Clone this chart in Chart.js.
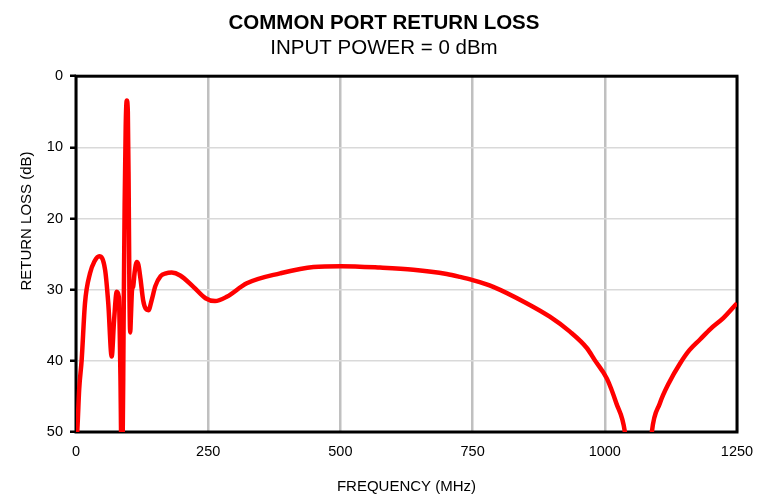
<!DOCTYPE html>
<html>
<head>
<meta charset="utf-8">
<script src="https://cdn.jsdelivr.net/npm/chart.js@4/dist/chart.umd.min.js"></script>
<style>
    html, body { margin: 0; padding: 0; background: #fff; }
    #wrap { width: 768px; height: 496px; }
</style>
</head>
<body>
<div id="wrap"><canvas id="returnLossChart" width="768" height="496"></canvas></div>
<script>
// Frequency (MHz) and return loss (dB); null = curve off the bottom
const freq = [0, 3, 6, 10.7, 17, 26.5, 35, 44, 55, 61, 67.5, 72, 77, 81, 84, 86,
    88, 90, 92, 94, 96, 98, 99.5, 101, 102.5, 104, 106, 108, 111, 115, 118, 122, 127, 132, 137,
    143, 150, 160, 170, 181, 197, 222, 245, 263, 285, 323, 386, 449, 501, 575, 638, 701, 726,
    750, 789, 852, 896, 934, 966, 981, 1004, 1022, 1038, 1042,
    1065,
    1086, 1089, 1104, 1122, 1142, 1160, 1180, 1200, 1224, 1250];
const loss = [53, 49, 44, 39.9, 31.9, 27.7, 26, 25.3, 27.2, 31.9, 39.4, 34.3, 30.3, 31, 42, 53,
    53, 35, 18, 7, 3.4, 5, 15, 30, 36, 33.5, 30, 29.6, 27.5, 26.1, 26.5, 28.5, 31.5, 32.7, 32.9,
    31.5, 29.5, 28.1, 27.7, 27.6, 28, 29.6, 31.2, 31.6, 31, 29.1, 27.7, 26.8, 26.7, 26.9, 27.2, 27.8, 28.2,
    28.65, 29.6, 31.9, 33.8, 35.9, 38.2, 39.9, 42.5, 46, 50, 53,
    null,
    53, 50, 46, 43, 40.4, 38.5, 37, 35.5, 34, 31.9];

const xTicks = [0, 250, 500, 750, 1000, 1250];
const yTicks = [0, 10, 20, 30, 40, 50];

const FONT = "'Liberation Sans', Arial, sans-serif";

// black frame round the plot area, drawn under the curve
const plotFrame = {
    id: "plotFrame",
    beforeDatasetsDraw(chart) {
        const { ctx, chartArea } = chart;
        ctx.save();
        ctx.strokeStyle = "#000";
        ctx.lineWidth = 3;
        ctx.strokeRect(chartArea.left, chartArea.top, chartArea.right - chartArea.left, chartArea.bottom - chartArea.top);
        ctx.restore();
    },
};

// y axis title sits above the middle, as in the original
const yTitle = {
    id: "yTitle",
    afterDraw(chart) {
        const { ctx } = chart;
        ctx.save();
        ctx.translate(27, 221);
        ctx.rotate(-Math.PI / 2);
        ctx.font = "15px " + FONT;
        ctx.fillStyle = "#000";
        ctx.textAlign = "center";
        ctx.textBaseline = "middle";
        ctx.fillText("RETURN LOSS (dB)", 0, 0);
        ctx.restore();
    },
};

const points = freq.map((f, i) => ({ x: f, y: loss[i] }));

new Chart(document.getElementById("returnLossChart").getContext("2d"), {
    type: "line",
    data: {
        datasets: [
            {
                label: "Return Loss",
                data: points,
                borderColor: "#ff0000",
                borderWidth: 4.5,
                pointRadius: 0,
                cubicInterpolationMode: "monotone",
                spanGaps: false,
                fill: false,
            },
        ],
    },
    options: {
        responsive: false,
        animation: false,
        layout: { padding: 0 },
        plugins: {
            legend: { display: false },
            tooltip: { enabled: false },
            title: {
                display: true,
                text: "COMMON PORT RETURN LOSS",
                color: "#000",
                font: { family: FONT, size: 20.5, weight: "bold" },
                padding: { top: 11, bottom: 0 },
            },
            subtitle: {
                display: true,
                text: "INPUT POWER = 0 dBm",
                color: "#000",
                font: { family: FONT, size: 20.5 },
                padding: { top: 0, bottom: 16 },
            },
        },
        scales: {
            x: {
                type: "linear",
                min: 0,
                max: 1250,
                afterBuildTicks: (scale) => { scale.ticks = xTicks.map((v) => ({ value: v })); },
                afterFit: (scale) => { scale.height = 64; },
                ticks: {
                    color: "#000",
                    font: { family: FONT, size: 14.5 },
                    padding: 11,
                    maxRotation: 0,
                    callback: (value) => String(value),
                },
                grid: { color: "#c0c0c0", lineWidth: 2.5, drawTicks: false },
                border: { display: false },
                title: {
                    display: true,
                    text: "FREQUENCY (MHz)",
                    color: "#000",
                    font: { family: FONT, size: 15 },
                    padding: { top: 0, bottom: 0 },
                },
            },
            y: {
                type: "linear",
                reverse: true,
                min: 0,
                max: 50,
                afterBuildTicks: (scale) => { scale.ticks = yTicks.map((v) => ({ value: v })); },
                afterFit: (scale) => { scale.width = 76; },
                ticks: {
                    color: "#000",
                    font: { family: FONT, size: 14.5 },
                    padding: 7,
                    callback: (value) => String(value),
                },
                grid: { color: "#d9d9d9", lineWidth: 1.5, tickLength: 6, tickColor: "#000", tickWidth: 2.5 },
                border: { display: false },
            },
            // empty right-hand strip so the titles centre on the whole canvas
            yRight: {
                position: "right",
                afterFit: (scale) => { scale.width = 31; },
                ticks: { display: false },
                grid: { display: false },
                border: { display: false },
            },
        },
    },
    plugins: [plotFrame, yTitle],
});
</script>
</body>
</html>
